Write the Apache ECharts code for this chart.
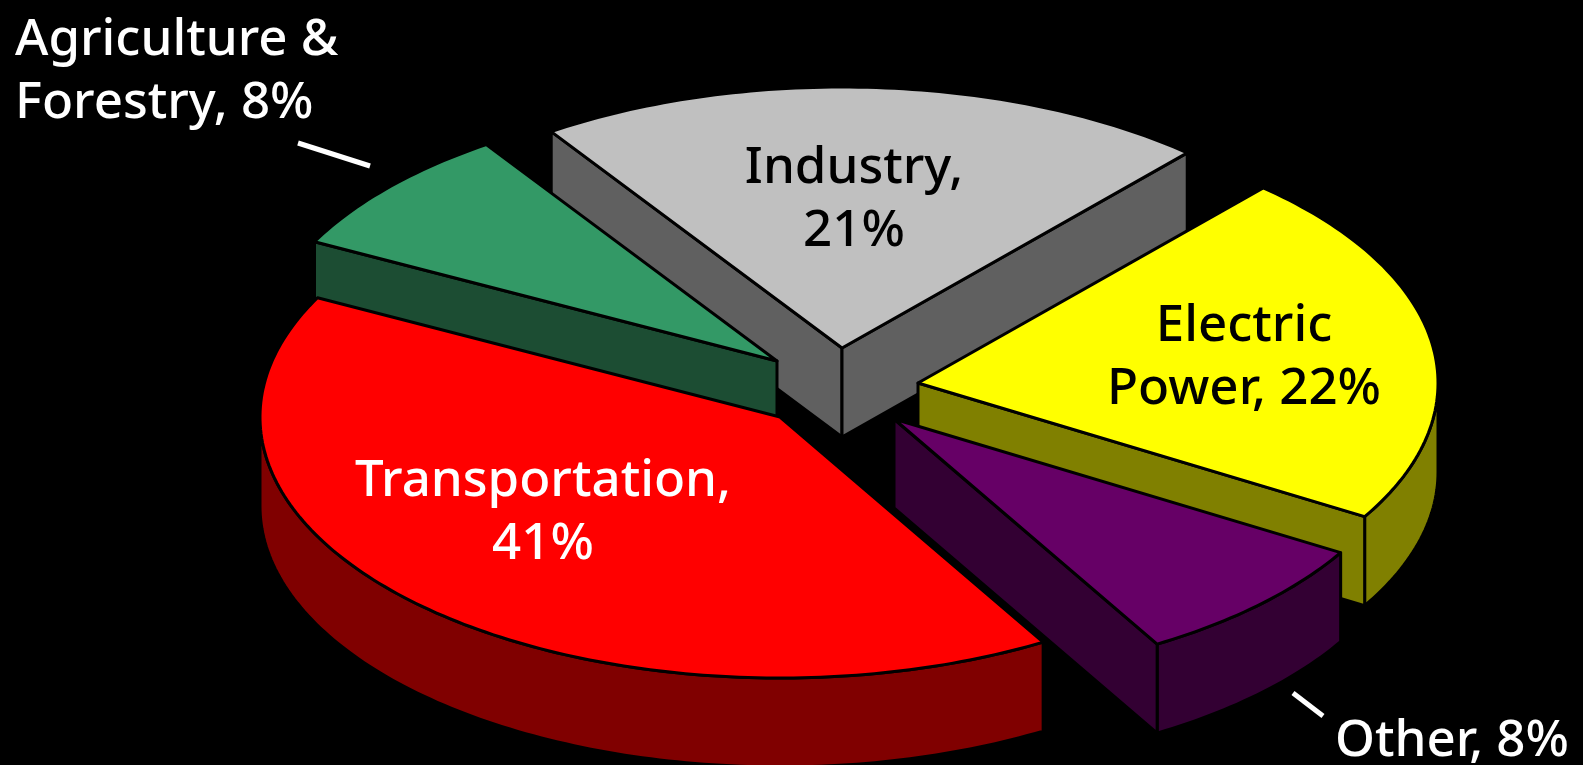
<!DOCTYPE html>
<html><head><meta charset="utf-8">
<style>html,body{margin:0;padding:0;background:#000}#c{width:1583px;height:765px}</style>
<script src="https://cdn.jsdelivr.net/npm/echarts@6/dist/echarts.min.js"></script>
</head><body><div id="c"></div>
<script>
// Data, in pie order
const categories = ['Transportation', 'Agriculture & Forestry', 'Industry', 'Electric Power', 'Other'];
const shares = [41, 8, 21, 22, 8];
const labelTexts = ['Transportation,\n41%', 'Agriculture &\nForestry, 8%', 'Industry,\n21%', 'Electric\nPower, 22%', 'Other, 8%'];

// Styling / layout
const topColors = ['#ff0000', '#339966', '#c0c0c0', '#ffff00', '#660066'];
const wallColors = ['#800000', '#1c4d33', '#606060', '#808000', '#330033'];
const labelColors = ['#ffffff', '#ffffff', '#000000', '#000000', '#ffffff'];
const apexes = [[780, 417], [777, 361], [842, 348], [918, 383], [894, 419]];
const labelAnchors = [[543, 450, 'center'], [15, 9, 'left'], [854, 137, 'center'], [1244, 295, 'center'], [1335, 710, 'left']];
const leaders = [null, [[298, 143], [370, 166]], null, null, [[1293, 693], [1323, 716]]];
const drawOrder = [2, 1, 3, 4, 0];
const startAngle = 59.6, radiusX = 520, radiusY = 261, depth = 89;
const fontFamily = '"Noto Sans", sans-serif', fontSize = 51, fontWeight = 500, lineHeight = 63;
const rad = d => d * Math.PI / 180;

function startOf(i) {
  let s = 0; for (let k = 0; k < i; k++) s += shares[k];
  const total = shares.reduce((a, b) => a + b, 0);
  return startAngle + s / total * 360;
}
function renderSlice(params, api) {
  const i = api.value(0), share = api.value(1);
  const total = shares.reduce((a, b) => a + b, 0);
  const t1 = startOf(i), t2 = t1 + share / total * 360;
  const [cx, cy] = apexes[i];
  const at = (t, drop) => api.coord([cx + radiusX * Math.cos(rad(t)), cy + radiusY * Math.sin(rad(t)) + (drop || 0)]);
  const apex = (drop) => api.coord([cx, cy + (drop || 0)]);
  const arc = (a, b, drop) => { const p = []; const n = Math.max(2, Math.ceil(b - a)); for (let k = 0; k <= n; k++) p.push(at(a + (b - a) * k / n, drop)); return p; };
  const line = { stroke: '#000', lineWidth: 3, lineJoin: 'round' };
  const children = [];
  const poly = (points, fill) => children.push({ type: 'polygon', shape: { points }, style: Object.assign({ fill }, line) });
  // outer rim: only the part facing the viewer
  for (let k = -1; k <= 2; k++) {
    const lo = Math.max(t1, k * 360), hi = Math.min(t2, k * 360 + 180);
    if (hi > lo) poly(arc(lo, hi, 0).concat(arc(lo, hi, depth).reverse()), wallColors[i]);
  }
  // radial walls facing the viewer
  if (-Math.cos(rad(t1)) > 0) poly([apex(), at(t1), at(t1, depth), apex(depth)], wallColors[i]);
  if (Math.cos(rad(t2)) > 0) poly([apex(), at(t2), at(t2, depth), apex(depth)], wallColors[i]);
  // top face
  poly([apex()].concat(arc(t1, t2, 0)), topColors[i]);
  // leader
  if (leaders[i]) {
    const a = api.coord(leaders[i][0]), b = api.coord(leaders[i][1]);
    children.push({ type: 'line', shape: { x1: a[0], y1: a[1], x2: b[0], y2: b[1] }, style: { stroke: '#fff', lineWidth: 5 } });
  }
  // label
  const la = labelAnchors[i], lp = api.coord([la[0], la[1]]);
  children.push({ type: 'text', x: lp[0], y: lp[1], style: {
    text: labelTexts[i], fill: labelColors[i], font: fontWeight + ' ' + fontSize + 'px ' + fontFamily,
    lineHeight: lineHeight, align: la[2], verticalAlign: 'top' } });
  return { type: 'group', children };
}
const chart = echarts.init(document.getElementById('c'), null, { renderer: 'canvas' });
chart.setOption({
  animation: false,
  backgroundColor: '#000',
  tooltip: { show: false },
  grid: { left: 0, right: 0, top: 0, bottom: 0 },
  xAxis: { type: 'value', min: 0, max: 1583, show: false },
  yAxis: { type: 'value', min: 0, max: 765, inverse: true, show: false },
  series: [{
    type: 'custom', coordinateSystem: 'cartesian2d', clip: false, silent: true,
    renderItem: renderSlice,
    encode: { x: -1, y: -1 },
    data: drawOrder.map(i => ({ name: categories[i], value: [i, shares[i]] }))
  }]
});
</script></body></html>
